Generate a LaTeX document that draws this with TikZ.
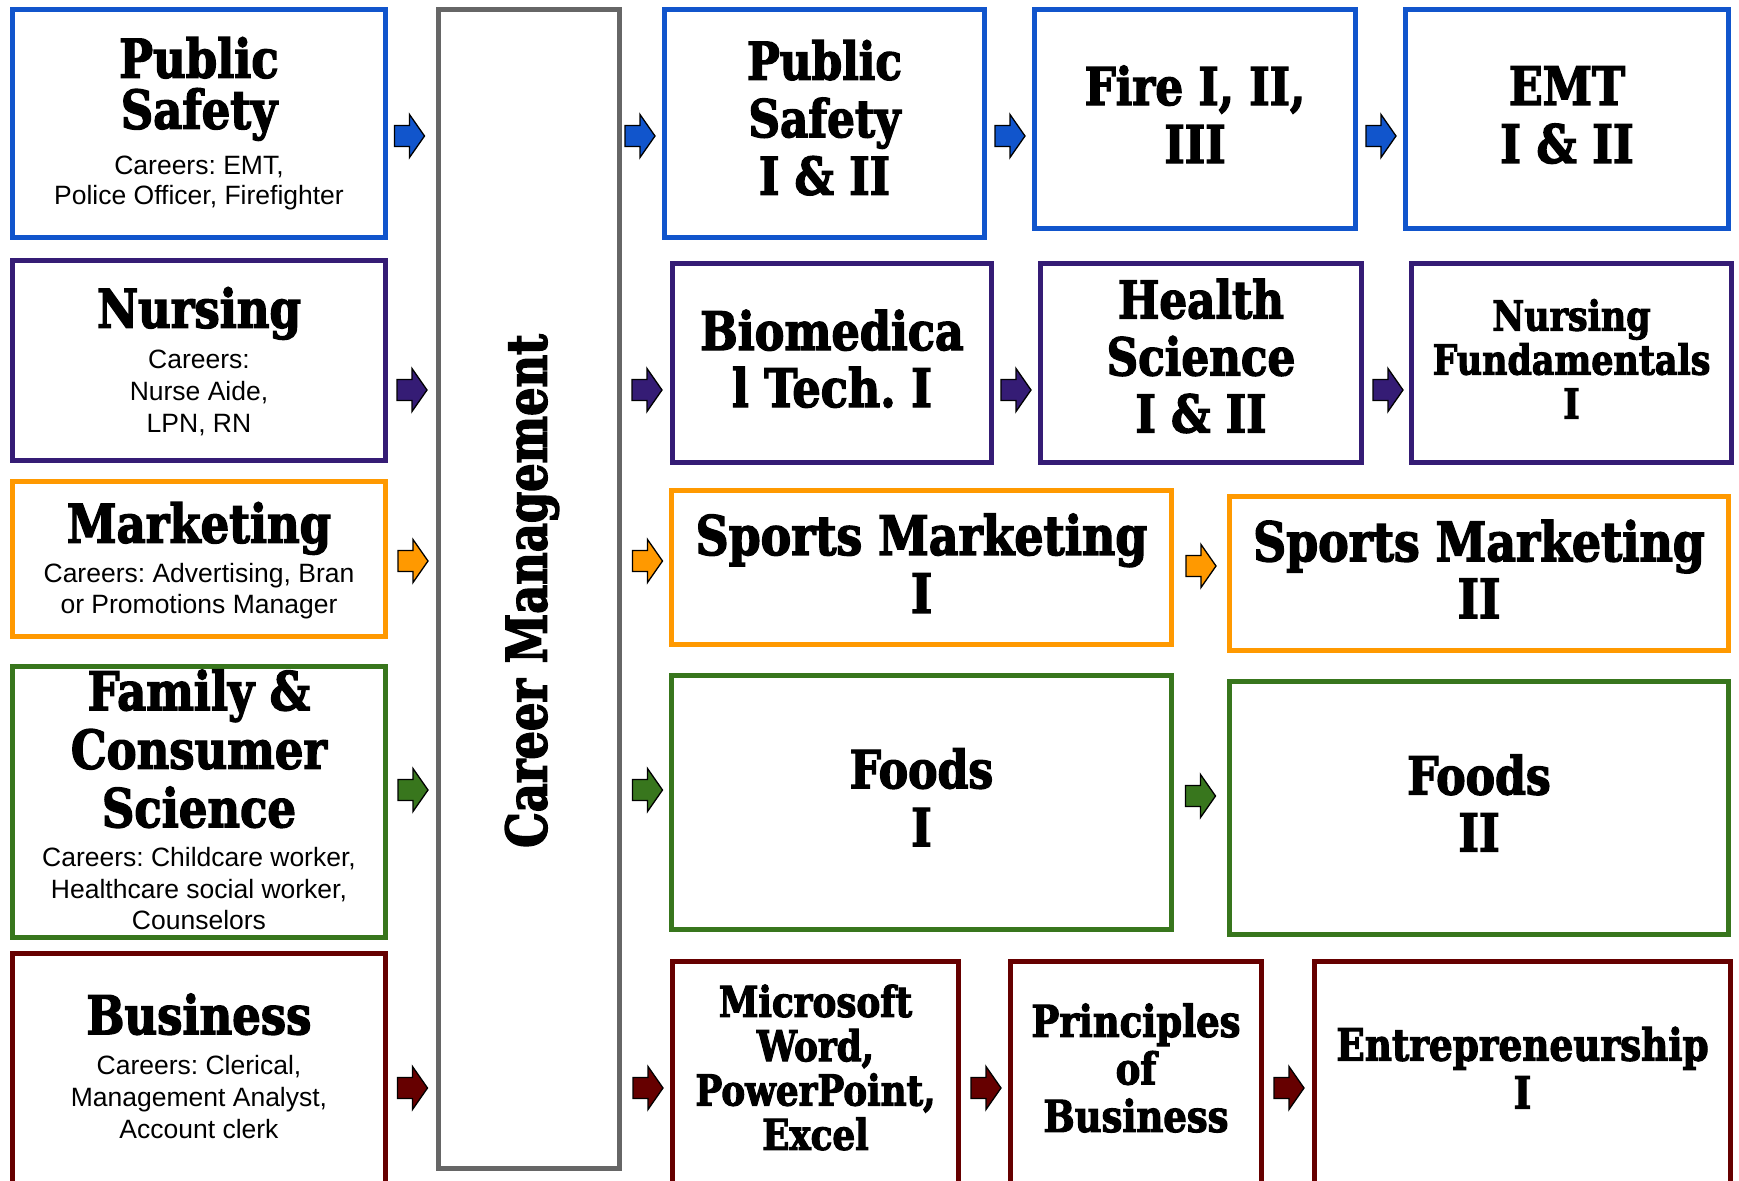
\documentclass[tikz,border=0pt]{standalone}
\usepackage{fontspec}
\setmainfont{Liberation Sans}
\newfontfamily\hfont{DejaVu Serif}[FakeStretch=0.84,FakeBold=2.5]
\newfontfamily\cmfont{DejaVu Serif}[FakeStretch=0.80,FakeBold=2.5]
\newfontfamily\cfont{Liberation Sans}
\frenchspacing
\definecolor{cblue}{HTML}{1155CC}
\definecolor{cpurple}{HTML}{351C75}
\definecolor{corange}{HTML}{FF9900}
\definecolor{cgreen}{HTML}{38761D}
\definecolor{cred}{HTML}{660000}
\definecolor{cgray}{HTML}{666666}
\newcommand\hf[2]{\hfont\bfseries\fontsize{#1}{#2}\selectfont}
\newcommand\cf[1]{\cfont\mdseries\fontsize{26.5}{#1}\selectfont}
\newcommand\bx[6]{\node[box=#2, minimum width={#5-#3-5}, minimum height={#6-#4-5}] (#1) at ({(#3+#5)/2},{(#4+#6)/2}) {};}
\tikzset{
  box/.style={draw=#1, line width=5pt, inner sep=0pt, fill=white},
  pics/blkarrow/.style={code={
    \filldraw[fill=#1, draw=black, line width=1.3pt, line join=miter]
      (-15,-10.5) -- (0,-10.5) -- (0,-21.5) -- (15,0) -- (0,21.5) -- (0,10.5) -- (-15,10.5) -- cycle;}},
  rtxt/.style={align=center, inner sep=0pt}
}
\begin{document}
\begin{tikzpicture}[x=1pt,y=-1pt]
\useasboundingbox (0,0) rectangle (1739,1180);
\clip (0,0) rectangle (1739,1180);
\fill[white] (0,0) rectangle (1739,1180);
% boxes
\bx{lps}{cblue}{10}{7}{388}{240}
\bx{lnu}{cpurple}{10}{258}{388}{463}
\bx{lmk}{corange}{10}{479}{388}{639}
\bx{lfc}{cgreen}{10}{664}{388}{940}
\bx{lbu}{cred}{10}{951}{388}{1200}
\bx{cm}{cgray}{436}{7}{622}{1171}
\bx{ps12}{cblue}{662}{7}{987}{240}
\bx{fire}{cblue}{1032}{7}{1358}{231}
\bx{emt}{cblue}{1403}{7}{1731}{231}
\bx{bio}{cpurple}{670}{261}{994}{465}
\bx{hs}{cpurple}{1038}{261}{1364}{465}
\bx{nf}{cpurple}{1409}{261}{1734}{465}
\bx{sm1}{corange}{669}{488}{1174}{647}
\bx{sm2}{corange}{1227}{494}{1731}{653}
\bx{f1}{cgreen}{669}{673}{1174}{932}
\bx{f2}{cgreen}{1227}{679}{1731}{937}
\bx{ms}{cred}{670}{959}{961}{1200}
\bx{pb}{cred}{1008}{959}{1264}{1200}
\bx{en}{cred}{1312}{959}{1733}{1200}
% arrows
\coordinate (a1) at (409.5,136);  \pic at (a1) {blkarrow=cblue};
\coordinate (a2) at (640,136);    \pic at (a2) {blkarrow=cblue};
\coordinate (a3) at (1010,136);   \pic at (a3) {blkarrow=cblue};
\coordinate (a4) at (1381,136);   \pic at (a4) {blkarrow=cblue};
\coordinate (a5) at (412,390);    \pic at (a5) {blkarrow=cpurple};
\coordinate (a6) at (647,390);    \pic at (a6) {blkarrow=cpurple};
\coordinate (a7) at (1016,390);   \pic at (a7) {blkarrow=cpurple};
\coordinate (a8) at (1388,390);   \pic at (a8) {blkarrow=cpurple};
\coordinate (a9) at (413,561);    \pic at (a9) {blkarrow=corange};
\coordinate (a10) at (647.5,561); \pic at (a10) {blkarrow=corange};
\coordinate (a11) at (1201,566);  \pic at (a11) {blkarrow=corange};
\coordinate (a12) at (413,790);   \pic at (a12) {blkarrow=cgreen};
\coordinate (a13) at (647.5,790); \pic at (a13) {blkarrow=cgreen};
\coordinate (a14) at (1200.5,796);\pic at (a14) {blkarrow=cgreen};
\coordinate (a15) at (412.5,1088);\pic at (a15) {blkarrow=cred};
\coordinate (a16) at (648,1088);  \pic at (a16) {blkarrow=cred};
\coordinate (a17) at (986,1088);  \pic at (a17) {blkarrow=cred};
\coordinate (a18) at (1289,1088); \pic at (a18) {blkarrow=cred};
% left texts
\node[rtxt, font=\hf{53.5}{51}] (lpsh) at (199,88.9) {Public\\Safety};
\node[rtxt, font=\cf{30}] (lpsc) at (199,183.4) {Careers: EMT,\\Police Officer, Firefighter};
\node[rtxt, font=\hf{53.5}{51}] (lnuh) at (199,313.4) {Nursing};
\node[rtxt, font=\cf{32}] (lnuc) at (199,392.5) {Careers:\\Nurse Aide,\\LPN, RN};
\node[rtxt, font=\hf{53.5}{51}] (lmkh) at (199,528.4) {Marketing};
\node[rtxt, font=\cf{31}] (lmkc) at (199,590.8) {Careers: Advertising, Bran\\or Promotions Manager};
\node[rtxt, font=\hf{53.5}{58.5}] (lfch) at (199,748.75) {Family \&\\Consumer\\Science};
\node[rtxt, font=\cf{31.5}] (lfcc) at (199,889) {Careers: Childcare worker,\\Healthcare social worker,\\Counselors};
\node[rtxt, font=\hf{53.5}{51}] (lbuh) at (199,1014.25) {Business};
\node[rtxt, font=\cf{32}] (lbuc) at (199,1097.5) {Careers: Clerical,\\Management Analyst,\\Account clerk};
% career management
\node[rotate=90, inner sep=0pt, font=\cmfont\bfseries\fontsize{56}{60}\selectfont] (cmt) at (532,591) {Career Management};
% right texts
\node[rtxt, font=\hf{52}{57.5}] (ps12t) at (824.5,117.75) {Public\\Safety\\I \& II};
\node[rtxt, font=\hf{52}{58}] (firet) at (1195,114.25) {Fire I, II,\\III};
\node[rtxt, font=\hf{53}{58}] (emtt) at (1567,115) {EMT\\I \& II};
\node[rtxt, font=\hf{53}{57}] (biot) at (832,358.75) {Biomedica\\l Tech. I};
\node[rtxt, font=\hf{52}{57}] (hst) at (1201,356) {Health\\Science\\I \& II};
\node[rtxt, font=\hf{41.5}{44}] (nft) at (1571.5,358.8) {Nursing\\Fundamentals\\I};
\node[rtxt, font=\hf{54.5}{58}] (sm1t) at (921.5,563.25) {Sports Marketing\\I};
\node[rtxt, font=\hf{54.5}{57}] (sm2t) at (1479,569) {Sports Marketing\\II};
\node[rtxt, font=\hf{52.5}{58}] (f1t) at (921.5,797.25) {Foods\\I};
\node[rtxt, font=\hf{52.5}{57}] (f2t) at (1479,803) {Foods\\II};
\node[rtxt, font=\hf{42.5}{44.3}] (mst) at (815.5,1067.5) {Microsoft\\Word,\\PowerPoint,\\Excel};
\node[rtxt, font=\hf{44}{47.5}] (pbt) at (1136,1068) {Principles\\of\\Business};
\node[rtxt, font=\hf{44.5}{48}] (ent) at (1522.5,1067.7) {Entrepreneurship\\I};
\end{tikzpicture}
\end{document}
